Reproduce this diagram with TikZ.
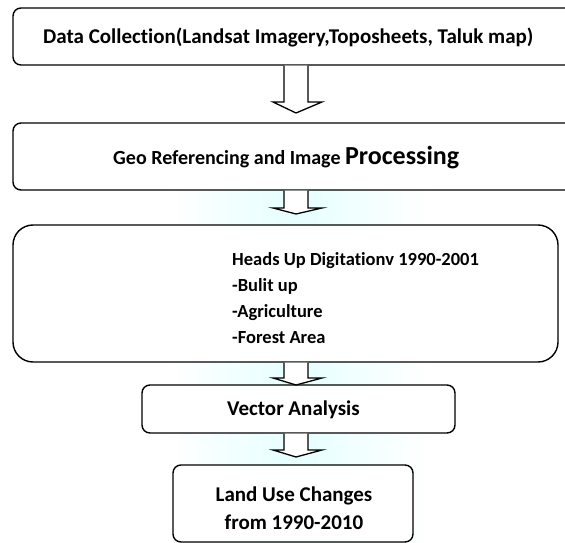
\documentclass[tikz,border=0pt]{standalone}
\usepackage{fontspec}
\setmainfont{Carlito}[Ligatures={NoCommon}]
\usetikzlibrary{calc}
\tikzset{
  box/.style={draw=black, line width=1.4pt, fill=white, rounded corners=8pt, inner sep=0pt},
  bigbox/.style={box, rounded corners=20pt},
  barrow/.style={draw=black, line width=1.3pt, fill=white, line join=miter},
  txt/.style={font=\bfseries\fontsize{21}{28}\selectfont, align=center, inner sep=0pt},
}
\newcommand\blockarr[3]{% from node, wing y, tip y
  \draw[barrow] ($(ax |- #1.south)+(-12,0)$) -- ($(ax)+(-12,#2)$) -- ($(ax)+(-23,#2)$)
    -- ($(ax)+(0,#3)$) -- ($(ax)+(26,#2)$) -- ($(ax)+(12,#2)$) -- ($(ax |- #1.south)+(12,0)$);}
\begin{document}
\begin{tikzpicture}[x=1pt,y=-1pt]
\useasboundingbox (0,0) rectangle (565,543);
\clip (0,0) rectangle (565,543);
% faint background tint
\shade[left color=white, right color=cyan!10] (170,190) rectangle (296,543);
\shade[left color=cyan!10, right color=white] (296,190) rectangle (430,543);
\coordinate (ax) at (296,0);
% boxes
\node[box, minimum width=562pt, minimum height=57pt] (b1) at (294,36.5) {};
\node[txt, anchor=west] (t1) at (43,37) {Data Collection(Landsat Imagery,Toposheets, Taluk map)};
\node[box, minimum width=562pt, minimum height=67pt] (b2) at (294,156.5) {};
\node[txt, anchor=west] (t2) at (113,158) {\fontsize{20}{24}\selectfont Geo Referencing and Image {\fontsize{26}{30}\selectfont Processing}};
\node[bigbox, minimum width=545pt, minimum height=137pt] (b3) at (285.5,293.5) {};
\node[anchor=north west, align=left, inner sep=0pt, font=\bfseries\fontsize{18.5}{26}\selectfont] (t3) at (232,252)
  {Heads Up Digitationv 1990-2001\\-Bulit up\\-Agriculture\\-Forest Area};
\node[box, minimum width=313pt, minimum height=48pt] (b4) at (298.5,409) {};
\node[txt] (t4) at (293.5,410) {Vector Analysis};
\node[box, minimum width=240pt, minimum height=77pt] (b5) at (293,503.5) {};
\node[txt] (t5) at (294,508) {Land Use Changes\\from 1990-2010};
% block arrows
\blockarr{b1}{102}{113}
\blockarr{b2}{208}{214}
\blockarr{b3}{378}{385}
\blockarr{b4}{450}{457}
\end{tikzpicture}
\end{document}
